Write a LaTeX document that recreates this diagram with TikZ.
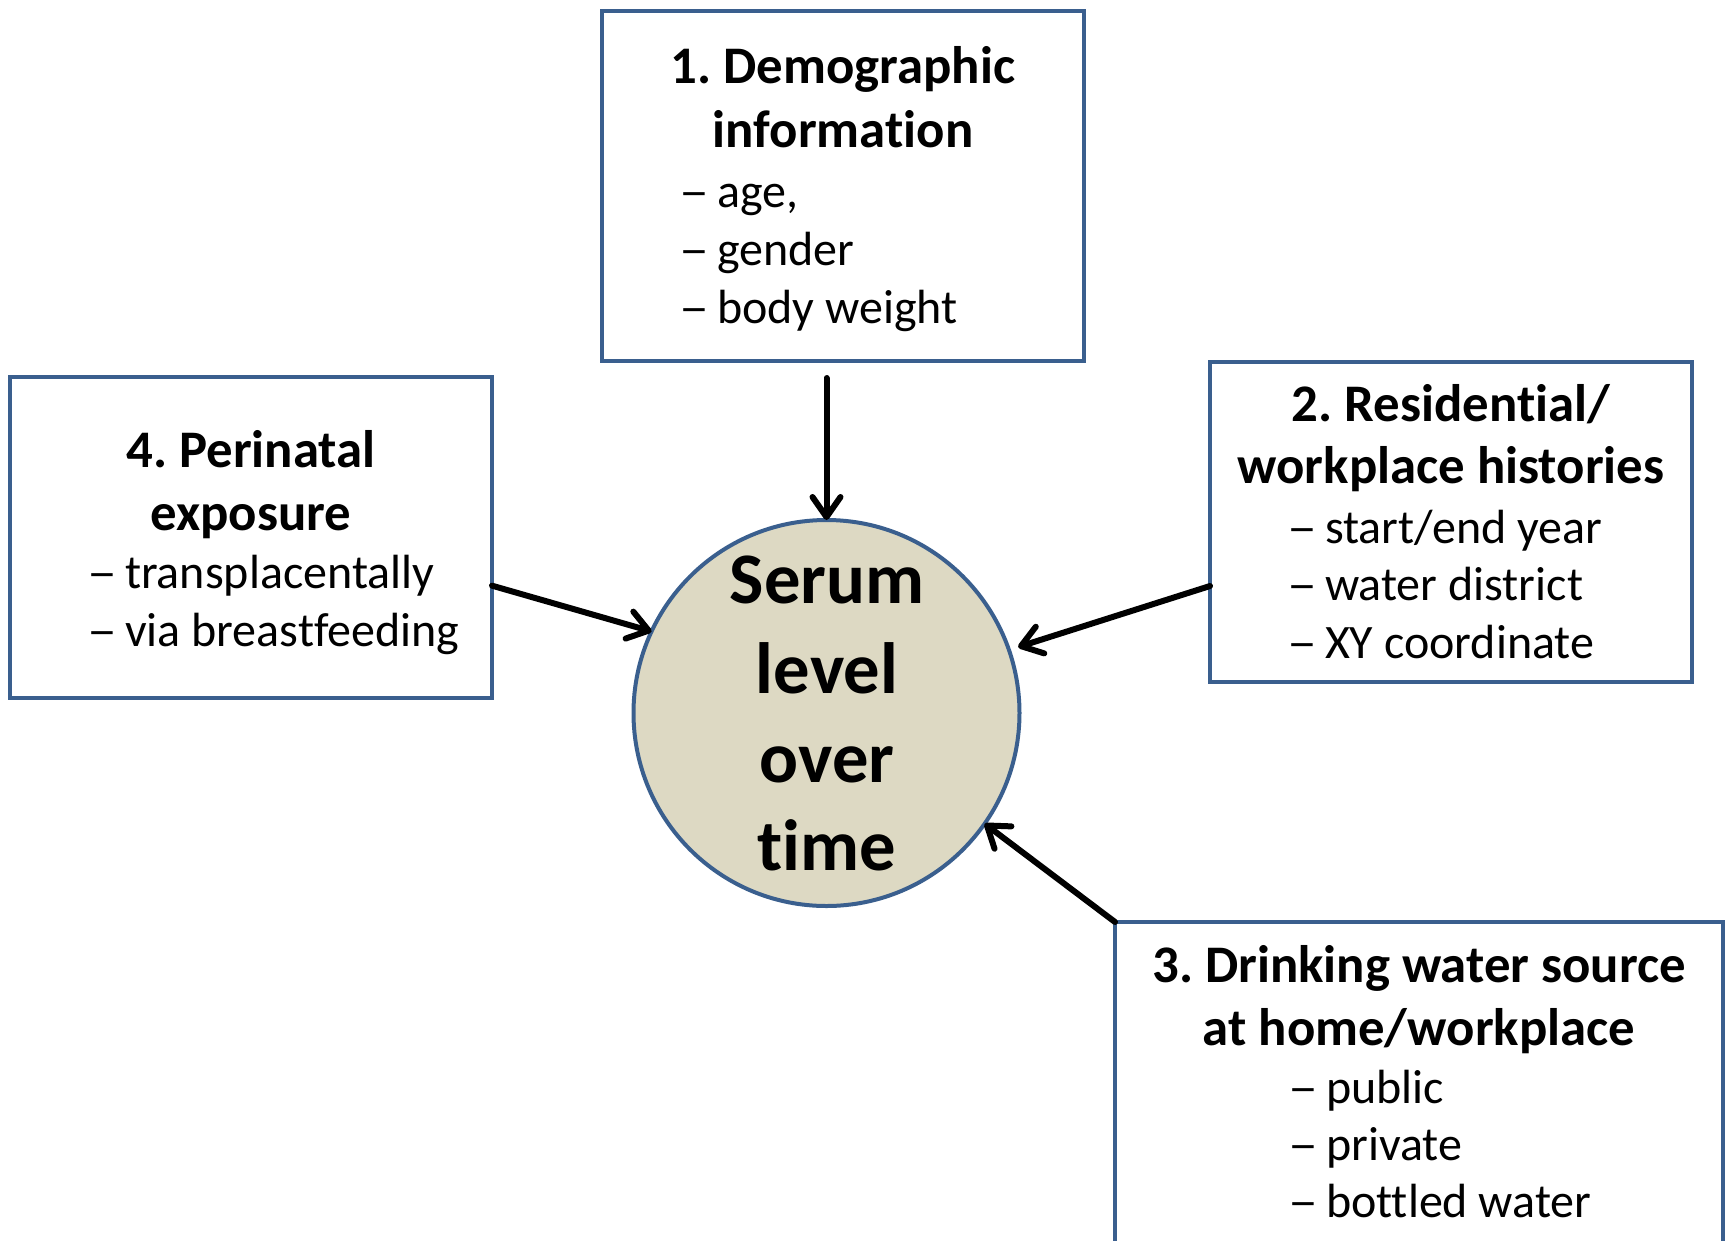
\documentclass[tikz,border=0pt]{standalone}
\usepackage{fontspec}
\usepackage{graphicx}
\setmainfont{Carlito}[Ligatures={NoCommon,TeX}]
\frenchspacing
\usetikzlibrary{arrows.meta,calc}
\definecolor{bordercol}{HTML}{3A5F8E}
\definecolor{serumfill}{HTML}{DDD9C3}
\newcommand{\itemdash}{\makebox[0.5em][r]{\scalebox{1.25}[1]{\textendash}\kern-3.5pt}}
\begin{document}
\begin{tikzpicture}[x=1pt,y=-1pt,
  box/.style={draw=bordercol,line width=4pt,rectangle,inner sep=0pt,outer sep=0pt,fill=white},
  ttl/.style={anchor=base,inner sep=0pt,font=\fontsize{52.8}{64}\selectfont\bfseries},
  itm/.style={anchor=base west,inner sep=0pt,font=\fontsize{48}{58}\selectfont},
  big/.style={anchor=base,inner sep=0pt,font=\fontsize{72.6}{89}\selectfont\bfseries},
  arr/.style={-{Straight Barb[length=20pt,width=28pt,round]},line width=6pt,line cap=round}]
\useasboundingbox (0,0) rectangle (1727,1240);
\clip (0,0) rectangle (1727,1240);
% boxes
\node[box,minimum width=482pt,minimum height=350pt] (b1) at (843,186) {};
\node[box,minimum width=482pt,minimum height=321pt] (b4) at (251,537.5) {};
\node[box,minimum width=482pt,minimum height=320pt] (b2) at (1451,522) {};
\node[box,minimum width=608pt,minimum height=340pt] (b3) at (1419,1092) {};
\node[circle,draw=bordercol,line width=4pt,fill=serumfill,minimum size=386pt,inner sep=0pt,outer sep=0pt] (c) at (826.5,713) {};
% box 1
\node[ttl] (t1a) at (843,83) {1. Demographic};
\node[ttl] (t1b) at (843,147) {information};
\node[itm] (i1a) at (682,207) {\itemdash{} age,};
\node[itm] (i1b) at (682,265) {\itemdash{} gender};
\node[itm] (i1c) at (682,323) {\itemdash{} body weight};
% box 4
\node[ttl] (t4a) at (251,467) {4. Perinatal};
\node[ttl] (t4b) at (251,530) {exposure};
\node[itm] (i4a) at (90,588) {\itemdash{} transplacentally};
\node[itm] (i4b) at (90,646) {\itemdash{} via breastfeeding};
% box 2
\node[ttl] (t2a) at (1451,421) {2. Residential/};
\node[ttl] (t2b) at (1451,483) {workplace histories};
\node[itm] (i2a) at (1290,543) {\itemdash{} start/end year};
\node[itm] (i2b) at (1290,600) {\itemdash{} water district};
\node[itm] (i2c) at (1290,658) {\itemdash{} XY coordinate};
% box 3
\node[ttl] (t3a) at (1419,982) {3. Drinking water source};
\node[ttl] (t3b) at (1419,1045) {at home/workplace};
\node[itm] (i3a) at (1291,1103) {\itemdash{} public};
\node[itm] (i3b) at (1291,1160) {\itemdash{} private};
\node[itm] (i3c) at (1291,1217) {\itemdash{} bottled water};
% circle text
\node[big] (cs1) at (827,603) {Serum};
\node[big] (cs2) at (827,693) {level};
\node[big] (cs3) at (827,782) {over};
\node[big] (cs4) at (827,870) {time};
% connectors
\coordinate (s1) at ($(b1.south -| c.north)+(0,17)$);
\coordinate (s4) at ($(b4.north east)!0.65!(b4.south east)$);
\coordinate (s2) at ($(b2.north west)!0.7!(b2.south west)$);
\coordinate (e2) at ($(c.center)!1.05!(c.19)$);
\draw[arr] (s1) -- (c.north);
\draw[arr] (s4) -- (c.155);
\draw[arr] (s2) -- (e2);
\draw[arr] (b3.north west) -- (c.-35);
\end{tikzpicture}
\end{document}
